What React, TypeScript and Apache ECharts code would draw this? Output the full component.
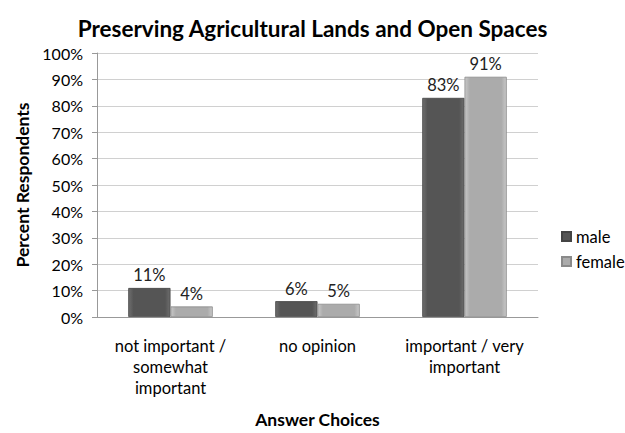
import React, { useEffect, useRef } from "react";
import * as echarts from "echarts";

const categories = ["not important /\nsomewhat\nimportant", "no opinion", "important / very\nimportant"];
const maleValues = [11, 6, 83];
const femaleValues = [4, 5, 91];
const seriesNames = ["male", "female"];

const FONT = "Lato, 'Open Sans', sans-serif";

export default function App() {
  const ref = useRef<HTMLDivElement>(null);
  useEffect(() => {
    if (!ref.current) return;
    const chart = echarts.init(ref.current, null, { renderer: "svg" });
    const grad = (edge: string, mid: string) =>
      new echarts.graphic.LinearGradient(0, 0, 1, 0, [
        { offset: 0, color: edge },
        { offset: 0.12, color: mid },
        { offset: 0.88, color: mid },
        { offset: 1, color: edge },
      ]);
    chart.setOption({
      animation: false,
      backgroundColor: "#ffffff",
      textStyle: { fontFamily: FONT },
      title: {
        text: "Preserving Agricultural Lands and Open Spaces",
        left: "center",
        top: 12,
        textStyle: { fontFamily: FONT, fontSize: 22.5, fontWeight: "bold", color: "#000" },
      },
      legend: {
        orient: "vertical",
        left: 556,
        top: 223,
        itemWidth: 9,
        itemHeight: 9,
        itemGap: 8,
        icon: "rect",
        textStyle: { fontFamily: FONT, fontSize: 16.5, color: "#000" },
        data: seriesNames,
      },
      grid: { left: 97, right: 87, top: 53, bottom: 110 },
      xAxis: {
        type: "category",
        data: categories,
        name: "Answer Choices",
        nameLocation: "middle",
        nameGap: 93,
        nameTextStyle: { fontFamily: FONT, fontSize: 17.5, fontWeight: "bold", color: "#000" },
        axisLine: { lineStyle: { color: "#999" } },
        axisTick: { show: false },
        axisLabel: { fontFamily: FONT, fontSize: 16.5, color: "#000", lineHeight: 21, margin: 18, interval: 0 },
      },
      yAxis: {
        type: "value",
        min: 0,
        max: 100,
        interval: 10,
        name: "Percent Respondents",
        nameLocation: "middle",
        nameGap: 64,
        nameTextStyle: { fontFamily: FONT, fontSize: 17.5, fontWeight: "bold", color: "#000" },
        axisLine: { show: true, lineStyle: { color: "#999" } },
        axisTick: { show: true, length: 5, lineStyle: { color: "#999" } },
        axisLabel: { fontFamily: FONT, fontSize: 16, color: "#000", formatter: "{value}%", margin: 14 },
        splitLine: { lineStyle: { color: "#d0d0d0" } },
      },
      series: [
        {
          name: seriesNames[0],
          type: "bar",
          data: maleValues,
          barGap: "0%",
          barCategoryGap: "42.5%",
          itemStyle: { color: grad("#6e6e6e", "#555555"), borderColor: "#444", borderWidth: 0.8 },
          label: { show: true, position: "top", formatter: "{c}%", fontFamily: FONT, fontSize: 16.5, color: "#222", distance: 4 },
        },
        {
          name: seriesNames[1],
          type: "bar",
          data: femaleValues,
          itemStyle: { color: grad("#c8c8c8", "#ababab"), borderColor: "#8a8a8a", borderWidth: 0.8 },
          label: { show: true, position: "top", formatter: "{c}%", fontFamily: FONT, fontSize: 16.5, color: "#222", distance: 4 },
        },
      ],
    });
    return () => chart.dispose();
  }, []);
  return <div ref={ref} style={{ position: "absolute", left: 0, top: 0, width: 625, height: 433 }} />;
}
